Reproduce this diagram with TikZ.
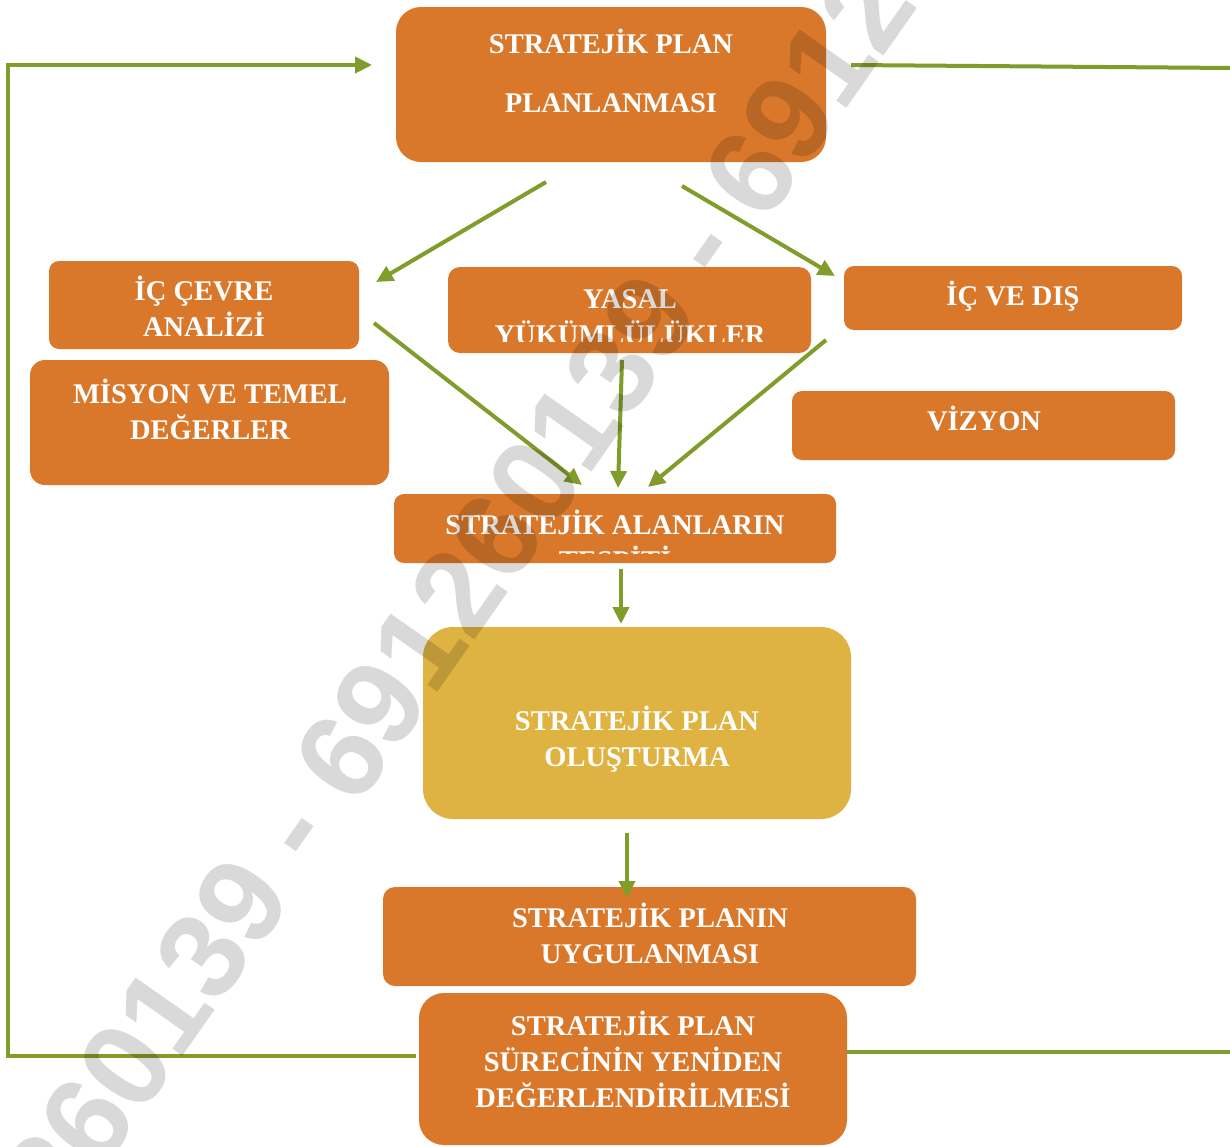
\documentclass[tikz,border=0pt]{standalone}
\usepackage{fontspec}
\setmainfont{Liberation Serif}
\newfontfamily\wmfont{Liberation Sans}
\usetikzlibrary{arrows.meta}
\definecolor{boxorange}{RGB}{217,120,43}
\definecolor{boxyellow}{RGB}{223,179,66}
\definecolor{linegreen}{RGB}{128,156,42}
\begin{document}
\begin{tikzpicture}[x=1pt,y=-1pt,
  obox/.style={fill=boxorange, draw=none, inner sep=0pt},
  ybox/.style={fill=boxyellow, draw=none, inner sep=0pt},
  lbl/.style={text=white, font=\bfseries\fontsize{28.5}{36}\selectfont, align=center, anchor=base, inner sep=0pt},
  conn/.style={draw=linegreen, line width=4pt},
  arr/.style={conn, -{Triangle[length=17pt,width=16pt]}},
  wm/.style={text=black, text opacity=0.15, font=\wmfont\bfseries\fontsize{121}{121}\selectfont, inner sep=0pt, anchor=base west, rotate=55}]
\useasboundingbox (0,0) rectangle (1230,1146);
\fill[white] (0,0) rectangle (1230,1146);

% boxes
\node[obox, rounded corners=25pt, minimum width=430pt, minimum height=155pt] (top) at (611,84.5) {};
\node[obox, rounded corners=10pt, minimum width=310pt, minimum height=88pt] (icc) at (204,305) {};
\node[obox, rounded corners=15pt, minimum width=359pt, minimum height=125pt] (mis) at (209.5,422.5) {};
\node[obox, rounded corners=12pt, minimum width=363pt, minimum height=86pt] (yas) at (629.5,310) {};
\node[obox, rounded corners=10pt, minimum width=338pt, minimum height=64pt] (icd) at (1013,298) {};
\node[obox, rounded corners=10pt, minimum width=383pt, minimum height=69pt] (viz) at (983.5,425.5) {};
\node[obox, rounded corners=10pt, minimum width=442pt, minimum height=69pt] (sta) at (615,528.5) {};
\node[ybox, rounded corners=30pt, minimum width=428pt, minimum height=192pt] (olu) at (637,723) {};
\node[obox, rounded corners=12pt, minimum width=533pt, minimum height=99pt] (uyg) at (649.5,936.5) {};
\node[obox, rounded corners=25pt, minimum width=428pt, minimum height=152pt] (deg) at (633,1069) {};

% labels (anchor = baseline of last line)
\node[lbl, font=\bfseries\fontsize{28.5}{59}\selectfont] (top-t) at (611,112) {STRATEJİK PLAN\\PLANLANMASI};
\node[lbl] (icc-t) at (204,336) {İÇ ÇEVRE\\ANALİZİ};
\node[lbl] (mis-t) at (210,439) {MİSYON VE TEMEL\\DEĞERLER};
\begin{scope}
  \clip (448,267) rectangle (811,341);
  \node[lbl] (yas-t) at (630,344) {YASAL\\YÜKÜMLÜLÜKLER};
\end{scope}
\node[lbl] (icd-t) at (1013,305) {İÇ VE DIŞ};
\node[lbl] (viz-t) at (984,430) {VİZYON};
\begin{scope}
  \clip (394,494) rectangle (836,553);
  \node[lbl] (sta-t) at (615,570) {STRATEJİK ALANLARIN\\TESPİTİ};
\end{scope}
\node[lbl] (olu-t) at (637,766) {STRATEJİK PLAN\\OLUŞTURMA};
\node[lbl] (uyg-t) at (650,963) {STRATEJİK PLANIN\\UYGULANMASI};
\node[lbl] (deg-t) at (633,1107) {STRATEJİK PLAN\\SÜRECİNİN YENİDEN\\DEĞERLENDİRİLMESİ};

% connector end points
\coordinate (a1s) at (546,182); \coordinate (a1e) at (376,282);
\coordinate (a2s) at (682,186); \coordinate (a2e) at (835,276);
\coordinate (a3s) at (374,323); \coordinate (a3e) at (582,485);
\coordinate (a4s) at (622,360); \coordinate (a4e) at (618,488);
\coordinate (a5s) at (826,340); \coordinate (a5e) at (648,487);
\coordinate (a6s) at (621,569); \coordinate (a6e) at (621,624);
\coordinate (a7s) at (627,833); \coordinate (a7e) at (627,898);
\coordinate (lbS) at (416,1056); \coordinate (lbA) at (8,1056);
\coordinate (lbB) at (8,65); \coordinate (lbE) at (372,65);
\coordinate (rtS) at (851,65); \coordinate (rtE) at (1232,68);
\coordinate (rbS) at (847,1052); \coordinate (rbE) at (1232,1052);

\draw[arr] (a1s) -- (a1e);
\draw[arr] (a2s) -- (a2e);
\draw[arr] (a3s) -- (a3e);
\draw[arr] (a4s) -- (a4e);
\draw[arr] (a5s) -- (a5e);
\draw[arr] (a6s) -- (a6e);
\draw[arr] (a7s) -- (a7e);
\draw[arr] (lbS) -- (lbA) -- (lbB) -- (lbE);
\draw[conn] (rtS) -- (rtE);
\draw[conn] (rbS) -- (rbE);

% watermark
\begin{scope}
  \clip (0,0) rectangle (1230,1146);
  \node[wm] (wm) at (63,1228) {260139 - 691260139 - 691260139};
\end{scope}
\end{tikzpicture}
\end{document}
